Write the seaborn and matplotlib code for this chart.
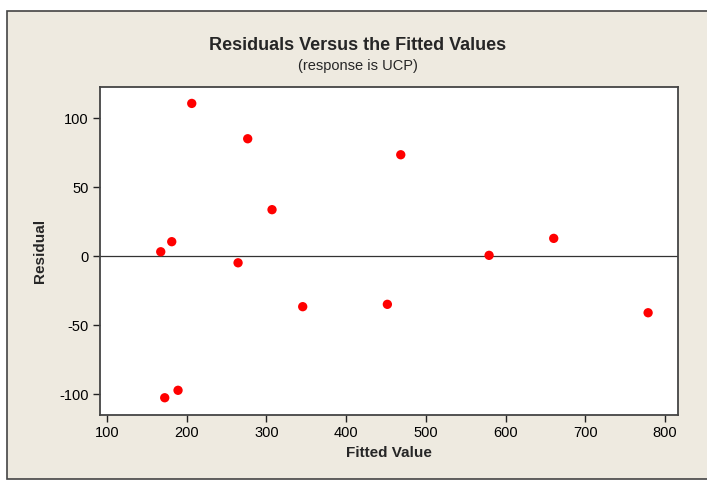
import matplotlib
matplotlib.use("Agg")
import matplotlib.pyplot as plt
from matplotlib.patches import Rectangle
import seaborn as sns
import pandas as pd

# Fitted values and residuals from the UCP regression
fitted = [206.3, 276.5, 468.5, 307.0, 181.2, 167.4, 264.4, 345.5,
          451.7, 189.1, 172.4, 660.4, 579.3, 778.8]
residual = [110.6, 85.0, 73.4, 33.6, 10.4, 3.1, -4.9, -36.7,
            -35.0, -97.3, -102.7, 12.8, 0.5, -41.1]

x_ticks = [100, 200, 300, 400, 500, 600, 700, 800]
y_ticks = [-100, -50, 0, 50, 100]

df = pd.DataFrame({"Fitted Value": fitted, "Residual": residual})

sns.set_theme(style="white")
plt.rcParams["font.family"] = ["Liberation Sans", "DejaVu Sans"]
plt.rcParams["axes.unicode_minus"] = False

W, H = 707, 483
fig = plt.figure(figsize=(W / 100, H / 100), dpi=100)
fig.patch.set_facecolor("white")

# beige panel with a dark border
panel = Rectangle((7 / W, 4 / H), 1.2, (H - 15) / H, transform=fig.transFigure,
                  facecolor="#EEEAE0", edgecolor="#444444", linewidth=1.2,
                  zorder=-10)
fig.patches.append(panel)

ax = fig.add_axes([100 / W, 1 - 415 / H, 578 / W, 328 / H])
ax.set_facecolor("white")

ax.axhline(0, color="#333333", linewidth=0.9, zorder=1)
sns.scatterplot(data=df, x="Fitted Value", y="Residual", ax=ax,
                color="#FF0000", edgecolor="none", s=45, zorder=3)

ax.set_xlim(91.2, 816.3)
ax.set_ylim(-115.2, 122.5)
ax.set_xticks(x_ticks)
ax.set_yticks(y_ticks)
ax.tick_params(axis="both", direction="out", length=5, width=1,
               colors="#222222", labelsize=10.5, bottom=True, left=True,
               pad=3)
ax.tick_params(labelcolor="black")

for sp in ax.spines.values():
    sp.set_visible(True)
    sp.set_color("#444444")
    sp.set_linewidth(1.3)

ax.set_xlabel("Fitted Value", fontsize=11, fontweight="bold", labelpad=4)
ax.set_ylabel("Residual", fontsize=11, fontweight="bold", labelpad=9)

fig.text(358 / W, 1 - 45 / H, "Residuals Versus the Fitted Values",
         ha="center", va="center", fontsize=13, fontweight="bold")
fig.text(358 / W, 1 - 66 / H, "(response is UCP)",
         ha="center", va="center", fontsize=10.5)

fig.savefig("out.png", dpi=100, facecolor=fig.get_facecolor())
